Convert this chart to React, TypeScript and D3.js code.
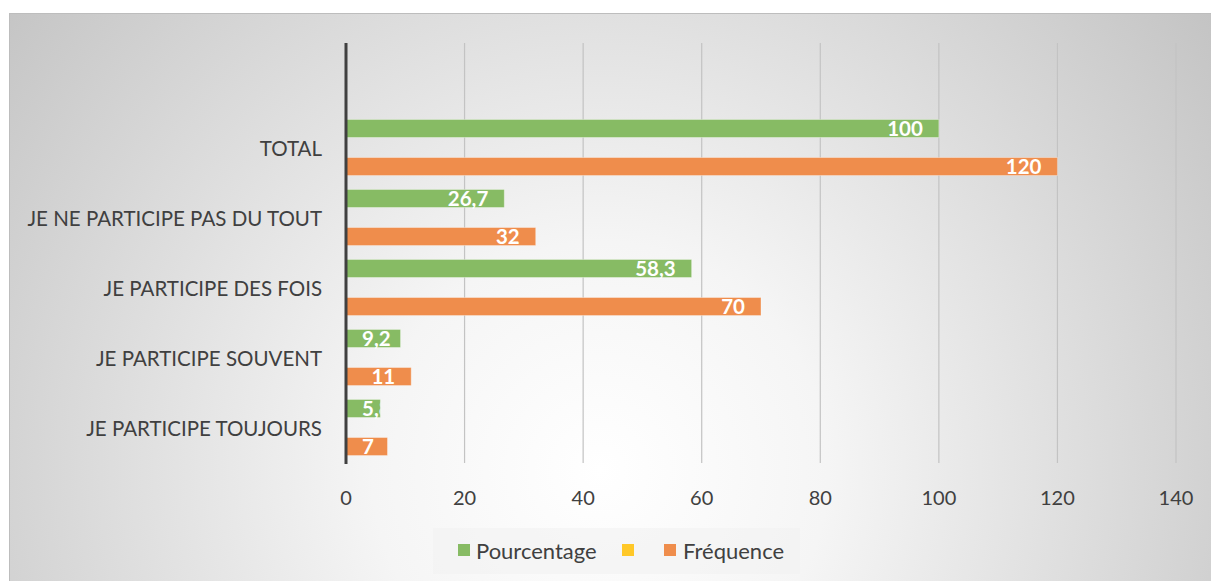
import React, { useEffect, useRef } from "react";
import * as d3 from "d3";

const categories = ["", "TOTAL", "JE NE PARTICIPE PAS DU TOUT", "JE PARTICIPE DES FOIS", "JE PARTICIPE SOUVENT", "JE PARTICIPE TOUJOURS"];
const seriesNames = ["Pourcentage", "", "Fréquence"];
const pourcentage: (number | null)[] = [null, 100, 26.7, 58.3, 9.2, 5.8];
const serieVide: (number | null)[] = [null, null, null, null, null, null];
const frequence: (number | null)[] = [null, 120, 32, 70, 11, 7];
const seriesColors = ["#87BB64", "#FFC828", "#EF8D4C"];
const xTicks = [0, 20, 40, 60, 80, 100, 120, 140];

const W = 1211;
const H = 581;
const FONT = "Lato, 'Open Sans', sans-serif";

export default function App() {
  const ref = useRef<SVGSVGElement>(null);

  useEffect(() => {
    const svg = d3.select(ref.current);
    svg.selectAll("*").remove();

    const defs = svg.append("defs");
    const grad = defs
      .append("radialGradient")
      .attr("id", "bg")
      .attr("gradientUnits", "userSpaceOnUse")
      .attr("cx", 600)
      .attr("cy", 470)
      .attr("r", 760);
    grad.append("stop").attr("offset", "0").attr("stop-color", "#ffffff");
    grad.append("stop").attr("offset", "0.3").attr("stop-color", "#f5f5f5");
    grad.append("stop").attr("offset", "1").attr("stop-color", "#c4c4c4");

    svg.append("rect").attr("x", 0).attr("y", 0).attr("width", W).attr("height", H).attr("fill", "#ffffff");
    svg.append("rect").attr("x", 9).attr("y", 13).attr("width", W - 9).attr("height", H - 13).attr("fill", "url(#bg)");
    svg.append("line").attr("x1", 9).attr("x2", W).attr("y1", 13.5).attr("y2", 13.5).attr("stroke", "#bdbdbd").attr("stroke-width", 1);
    svg.append("line").attr("x1", 9.5).attr("x2", 9.5).attr("y1", 13).attr("y2", H).attr("stroke", "#bdbdbd").attr("stroke-width", 1);

    const x = d3.scaleLinear().domain([0, 140]).range([346, 1176]);
    const y = d3.scaleBand<string>().domain(categories.map((c, i) => i + "")).range([43, 463]);
    const ySub = d3.scaleBand<string>().domain(seriesNames.map((s, i) => i + "")).range([0, y.bandwidth()]).paddingOuter(0.34).paddingInner(0);

    // gridlines
    svg
      .append("g")
      .selectAll("line")
      .data(xTicks.filter((t) => t !== 0))
      .join("line")
      .attr("x1", (d) => x(d))
      .attr("x2", (d) => x(d))
      .attr("y1", 43)
      .attr("y2", 463)
      .attr("stroke", "#c3c3c3")
      .attr("stroke-width", 1.2);

    // tick labels
    svg
      .append("g")
      .selectAll("text")
      .data(xTicks)
      .join("text")
      .attr("x", (d) => x(d))
      .attr("y", 497)
      .attr("text-anchor", "middle")
      .attr("dominant-baseline", "central")
      .attr("font-family", FONT)
      .attr("font-size", 20)
      .attr("fill", "#404040")
      .text((d) => d);

    // category labels
    svg
      .append("g")
      .selectAll("text")
      .data(categories)
      .join("text")
      .attr("x", 322)
      .attr("y", (d, i) => (y(i + "") as number) + y.bandwidth() / 2)
      .attr("text-anchor", "end")
      .attr("dominant-baseline", "central")
      .attr("font-family", FONT)
      .attr("font-size", 20.5)
      .attr("fill", "#404040")
      .text((d) => d);

    const allSeries = [pourcentage, serieVide, frequence];
    const barsG = svg.append("g");
    const labelsG = svg.append("g");
    allSeries.forEach((vals, si) => {
      vals.forEach((v, ci) => {
        if (v === null) return;
        const y0 = (y(ci + "") as number) + (ySub(si + "") as number);
        const h = ySub.bandwidth() - 1;
        const x0 = x(0);
        const x1 = x(v);
        barsG
          .append("rect")
          .attr("x", x0)
          .attr("y", y0)
          .attr("width", x1 - x0)
          .attr("height", h)
          .attr("fill", seriesColors[si])
          .attr("stroke", "rgba(255,255,255,0.35)")
          .attr("stroke-width", 1);
        const clipId = `clip-${si}-${ci}`;
        defs
          .append("clipPath")
          .attr("id", clipId)
          .append("rect")
          .attr("x", x0)
          .attr("y", y0 - 20)
          .attr("width", x1 - x0)
          .attr("height", h + 40);
        const t = labelsG
          .append("text")
          .attr("clip-path", `url(#${clipId})`)
          .attr("y", y0 + h / 2 + 7.5)
          .attr("font-family", FONT)
          .attr("font-size", 20.5)
          .attr("font-weight", "bold")
          .attr("fill", "#ffffff")
          .text(String(v).replace(".", ","));
        const tw = (t.node() as SVGTextElement).getComputedTextLength();
        t.attr("x", Math.max(x1 - 16 - tw, x0 + 16));
      });
    });

    // axis line
    svg.append("line").attr("x1", 346).attr("x2", 346).attr("y1", 43).attr("y2", 464).attr("stroke", "#404040").attr("stroke-width", 3);

    // legend
    const lg = svg.append("g");
    lg.append("rect").attr("x", 433).attr("y", 528).attr("width", 367).attr("height", 46).attr("fill", "rgba(242,242,242,0.6)");
    const legendItems = [
      { name: seriesNames[0], color: seriesColors[0], sx: 458, tx: 476 },
      { name: seriesNames[1], color: seriesColors[1], sx: 622, tx: 640 },
      { name: seriesNames[2], color: seriesColors[2], sx: 664, tx: 683 },
    ];
    legendItems.forEach((it) => {
      lg.append("rect").attr("x", it.sx).attr("y", 544).attr("width", 12).attr("height", 12).attr("fill", it.color);
      lg.append("text")
        .attr("x", it.tx)
        .attr("y", 550)
        .attr("dominant-baseline", "central")
        .attr("font-family", FONT)
        .attr("font-size", 22)
        .attr("fill", "#404040")
        .text(it.name);
    });
  }, []);

  return <svg ref={ref} width={W} height={H} style={{ position: "absolute", left: 0, top: 0 }} />;
}
